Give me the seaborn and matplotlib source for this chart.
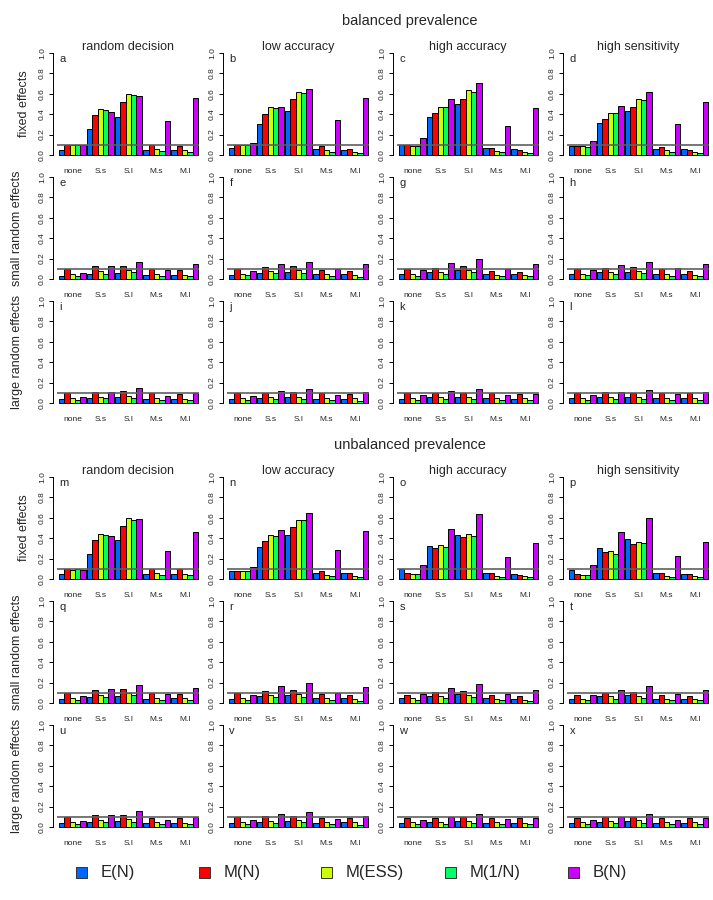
import matplotlib
matplotlib.use("Agg")
import matplotlib.pyplot as plt
from matplotlib.patches import Rectangle
import seaborn as sns
import pandas as pd

# ---------------- data ----------------
categories = ["none", "S.s", "S.l", "M.s", "M.l"]
methods = ["E(N)", "M(N)", "M(ESS)", "M(1/N)", "B(N)"]
colors = ["#0066FF", "#FF0000", "#CCFF00", "#00FF66", "#CC00FF"]
col_titles = ["random decision", "low accuracy", "high accuracy", "high sensitivity"]
row_titles = ["fixed effects", "small random effects", "large random effects"]
group_titles = ["balanced prevalence", "unbalanced prevalence"]
yticks = [0.0, 0.2, 0.4, 0.6, 0.8, 1.0]
ytick_labels = ["0.0", "0.2", "0.4", "0.6", "0.8", "1.0"]
nominal_level = 0.1

# each row: one category (none, S.s, S.l, M.s, M.l); columns: E(N), M(N), M(ESS), M(1/N), B(N)
panel_a = [[0.05, 0.10, 0.10, 0.095, 0.095], [0.25, 0.39, 0.455, 0.44, 0.42], [0.37, 0.52, 0.60, 0.585, 0.58], [0.05, 0.10, 0.055, 0.035, 0.335], [0.05, 0.085, 0.045, 0.03, 0.555]]
panel_b = [[0.065, 0.095, 0.095, 0.095, 0.12], [0.30, 0.40, 0.47, 0.465, 0.475], [0.43, 0.545, 0.62, 0.61, 0.645], [0.055, 0.085, 0.045, 0.03, 0.345], [0.05, 0.06, 0.03, 0.02, 0.555]]
panel_c = [[0.10, 0.095, 0.09, 0.09, 0.17], [0.37, 0.41, 0.475, 0.475, 0.545], [0.50, 0.545, 0.64, 0.62, 0.71], [0.065, 0.07, 0.04, 0.03, 0.285], [0.055, 0.045, 0.025, 0.02, 0.465]]
panel_d = [[0.085, 0.09, 0.09, 0.08, 0.14], [0.315, 0.355, 0.415, 0.415, 0.48], [0.43, 0.475, 0.545, 0.535, 0.615], [0.06, 0.075, 0.045, 0.03, 0.30], [0.06, 0.05, 0.03, 0.02, 0.515]]
panel_e = [[0.03, 0.10, 0.05, 0.03, 0.055], [0.05, 0.125, 0.075, 0.05, 0.13], [0.06, 0.13, 0.085, 0.065, 0.165], [0.04, 0.10, 0.045, 0.03, 0.09], [0.04, 0.085, 0.035, 0.025, 0.145]]
panel_f = [[0.04, 0.10, 0.05, 0.035, 0.075], [0.055, 0.12, 0.075, 0.055, 0.145], [0.07, 0.13, 0.085, 0.055, 0.17], [0.045, 0.09, 0.045, 0.025, 0.10], [0.045, 0.075, 0.04, 0.02, 0.15]]
panel_g = [[0.045, 0.095, 0.05, 0.03, 0.09], [0.07, 0.11, 0.07, 0.05, 0.155], [0.085, 0.125, 0.085, 0.065, 0.20], [0.045, 0.08, 0.04, 0.025, 0.095], [0.045, 0.07, 0.035, 0.025, 0.145]]
panel_h = [[0.045, 0.095, 0.05, 0.035, 0.085], [0.065, 0.105, 0.065, 0.045, 0.135], [0.07, 0.115, 0.075, 0.055, 0.165], [0.045, 0.095, 0.045, 0.025, 0.105], [0.045, 0.075, 0.035, 0.025, 0.15]]
panel_i = [[0.035, 0.095, 0.045, 0.03, 0.055], [0.045, 0.11, 0.06, 0.045, 0.11], [0.055, 0.12, 0.07, 0.045, 0.145], [0.035, 0.095, 0.045, 0.025, 0.07], [0.035, 0.085, 0.035, 0.025, 0.095]]
panel_j = [[0.035, 0.095, 0.045, 0.025, 0.065], [0.05, 0.10, 0.055, 0.04, 0.12], [0.055, 0.11, 0.06, 0.04, 0.14], [0.04, 0.095, 0.045, 0.025, 0.08], [0.04, 0.09, 0.045, 0.02, 0.11]]
panel_k = [[0.04, 0.095, 0.045, 0.025, 0.075], [0.055, 0.095, 0.055, 0.035, 0.115], [0.06, 0.10, 0.055, 0.04, 0.14], [0.045, 0.095, 0.045, 0.025, 0.08], [0.04, 0.09, 0.045, 0.025, 0.09]]
panel_l = [[0.045, 0.095, 0.05, 0.03, 0.075], [0.055, 0.105, 0.06, 0.04, 0.11], [0.055, 0.10, 0.06, 0.04, 0.125], [0.045, 0.095, 0.05, 0.03, 0.085], [0.045, 0.095, 0.045, 0.025, 0.105]]
panel_m = [[0.045, 0.095, 0.09, 0.095, 0.09], [0.25, 0.38, 0.44, 0.43, 0.42], [0.38, 0.515, 0.595, 0.575, 0.585], [0.05, 0.10, 0.055, 0.035, 0.27], [0.05, 0.095, 0.045, 0.035, 0.465]]
panel_n = [[0.075, 0.08, 0.075, 0.075, 0.12], [0.31, 0.37, 0.43, 0.42, 0.485], [0.43, 0.505, 0.58, 0.575, 0.645], [0.055, 0.075, 0.04, 0.03, 0.28], [0.055, 0.055, 0.03, 0.02, 0.47]]
panel_o = [[0.095, 0.055, 0.045, 0.045, 0.135], [0.32, 0.30, 0.33, 0.31, 0.495], [0.43, 0.41, 0.445, 0.42, 0.635], [0.055, 0.055, 0.03, 0.02, 0.215], [0.05, 0.04, 0.025, 0.015, 0.35]]
panel_p = [[0.085, 0.05, 0.04, 0.035, 0.135], [0.30, 0.26, 0.275, 0.245, 0.465], [0.39, 0.34, 0.365, 0.355, 0.595], [0.055, 0.055, 0.03, 0.015, 0.225], [0.05, 0.045, 0.025, 0.015, 0.36]]
panel_q = [[0.035, 0.095, 0.05, 0.03, 0.065], [0.055, 0.125, 0.08, 0.055, 0.135], [0.065, 0.14, 0.095, 0.075, 0.18], [0.04, 0.095, 0.05, 0.03, 0.09], [0.045, 0.09, 0.045, 0.025, 0.145]]
panel_r = [[0.04, 0.095, 0.045, 0.03, 0.075], [0.065, 0.12, 0.075, 0.055, 0.165], [0.075, 0.13, 0.09, 0.06, 0.195], [0.045, 0.09, 0.045, 0.025, 0.10], [0.045, 0.075, 0.04, 0.02, 0.16]]
panel_s = [[0.045, 0.08, 0.045, 0.025, 0.085], [0.065, 0.105, 0.065, 0.045, 0.15], [0.085, 0.115, 0.075, 0.055, 0.19], [0.045, 0.075, 0.04, 0.025, 0.09], [0.04, 0.065, 0.03, 0.02, 0.125]]
panel_t = [[0.04, 0.08, 0.04, 0.025, 0.075], [0.065, 0.10, 0.065, 0.04, 0.13], [0.075, 0.11, 0.065, 0.05, 0.17], [0.035, 0.075, 0.04, 0.025, 0.085], [0.04, 0.07, 0.035, 0.025, 0.125]]
panel_u = [[0.035, 0.095, 0.045, 0.03, 0.055], [0.05, 0.115, 0.065, 0.045, 0.115], [0.055, 0.12, 0.075, 0.05, 0.155], [0.035, 0.09, 0.045, 0.03, 0.07], [0.04, 0.09, 0.04, 0.03, 0.10]]
panel_v = [[0.04, 0.095, 0.045, 0.025, 0.07], [0.05, 0.105, 0.06, 0.035, 0.13], [0.055, 0.105, 0.065, 0.045, 0.15], [0.04, 0.09, 0.045, 0.025, 0.08], [0.045, 0.085, 0.045, 0.02, 0.11]]
panel_w = [[0.035, 0.09, 0.045, 0.025, 0.065], [0.045, 0.09, 0.05, 0.03, 0.095], [0.055, 0.095, 0.055, 0.035, 0.125], [0.04, 0.09, 0.045, 0.025, 0.075], [0.04, 0.085, 0.04, 0.025, 0.085]]
panel_x = [[0.04, 0.09, 0.045, 0.025, 0.065], [0.045, 0.095, 0.055, 0.035, 0.095], [0.055, 0.10, 0.065, 0.04, 0.125], [0.04, 0.09, 0.045, 0.025, 0.065], [0.04, 0.09, 0.045, 0.025, 0.085]]

panels = [
    [[("a", panel_a), ("b", panel_b), ("c", panel_c), ("d", panel_d)],
     [("e", panel_e), ("f", panel_f), ("g", panel_g), ("h", panel_h)],
     [("i", panel_i), ("j", panel_j), ("k", panel_k), ("l", panel_l)]],
    [[("m", panel_m), ("n", panel_n), ("o", panel_o), ("p", panel_p)],
     [("q", panel_q), ("r", panel_r), ("s", panel_s), ("t", panel_t)],
     [("u", panel_u), ("v", panel_v), ("w", panel_w), ("x", panel_x)]],
]

# ---------------- style ----------------
sns.set_theme(style="ticks")
plt.rcParams["font.family"] = ["Liberation Sans", "DejaVu Sans"]

W, H = 713, 900
fig = plt.figure(figsize=(W / 100, H / 100), dpi=100)
fig.patch.set_facecolor("white")

UNIT = 102.0          # px per 1.0 on y
ZERO0 = [155, 279, 403]
GROUP_SHIFT = 424
LEFT0, COL_STEP, AX_W = 57, 170, 142


def fy(py):
    return 1 - py / H


for g in range(2):
    for r in range(3):
        zero_y = ZERO0[r] + g * GROUP_SHIFT
        for c in range(4):
            letter, vals = panels[g][r][c]
            left = LEFT0 + c * COL_STEP
            bottom_px = zero_y + 0.04 * UNIT
            ax = fig.add_axes([left / W, fy(bottom_px), AX_W / W, 1.08 * UNIT / H])
            df = pd.DataFrame(vals, index=categories, columns=methods)
            df = df.reset_index().melt(id_vars="index", var_name="method", value_name="value")
            df = df.rename(columns={"index": "cat"})
            sns.barplot(data=df, x="cat", y="value", hue="method", order=categories,
                        hue_order=methods, palette=colors, saturation=1, width=0.952,
                        gap=0, edgecolor="black", linewidth=0.7, errorbar=None,
                        legend=False, ax=ax)
            ax.axhline(nominal_level, color="#5f5f5f", lw=1.2, zorder=5)
            for s in ["top", "right", "bottom"]:
                ax.spines[s].set_visible(False)
            ax.spines["left"].set_position(("outward", 3))
            ax.spines["left"].set_bounds(0, 1)
            ax.spines["left"].set_linewidth(0.7)
            ax.spines["left"].set_color("black")
            ax.set_xlim(-0.547, 4.513)
            ax.set_ylim(-0.04, 1.04)
            ax.set_xlabel("")
            ax.set_ylabel("")
            ax.set_yticks(yticks)
            ax.set_yticklabels(ytick_labels)
            ax.tick_params(axis="y", length=3, width=0.7, pad=2, color="black",
                           labelsize=6, labelrotation=90)
            for t in ax.get_yticklabels():
                t.set_va("center")
            ax.tick_params(axis="x", length=0, pad=6.5, labelsize=6)
            ax.set_facecolor("none")
            ax.text(-0.46, 0.94, letter, fontsize=8, ha="left", va="center")
            if r == 0:
                fig.text((left + AX_W / 2) / W, fy(50 + g * GROUP_SHIFT), col_titles[c],
                         ha="center", va="baseline", fontsize=9)
        # row label
        yc = zero_y - UNIT / 2
        xr = 24 if r == 0 else 17
        fig.text(xr / W, fy(yc), row_titles[r], rotation=90, ha="center", va="center",
                 fontsize=9)
    fig.text(410 / W, fy(21 + g * GROUP_SHIFT), group_titles[g], ha="center", va="center",
             fontsize=10.5)

# ---------------- legend ----------------
leg_y = 872
sq = 11
leg_x = [81, 204, 326, 450, 573]
for xc, col, lab in zip(leg_x, colors, methods):
    fig.add_artist(Rectangle(((xc - sq / 2) / W, fy(leg_y + sq / 2)), sq / W, sq / H,
                             transform=fig.transFigure, facecolor=col,
                             edgecolor="#333333", linewidth=0.7))
    fig.text((xc + 20) / W, fy(leg_y), lab, ha="left", va="center", fontsize=12)

fig.savefig("out.png", dpi=100, facecolor="white")
